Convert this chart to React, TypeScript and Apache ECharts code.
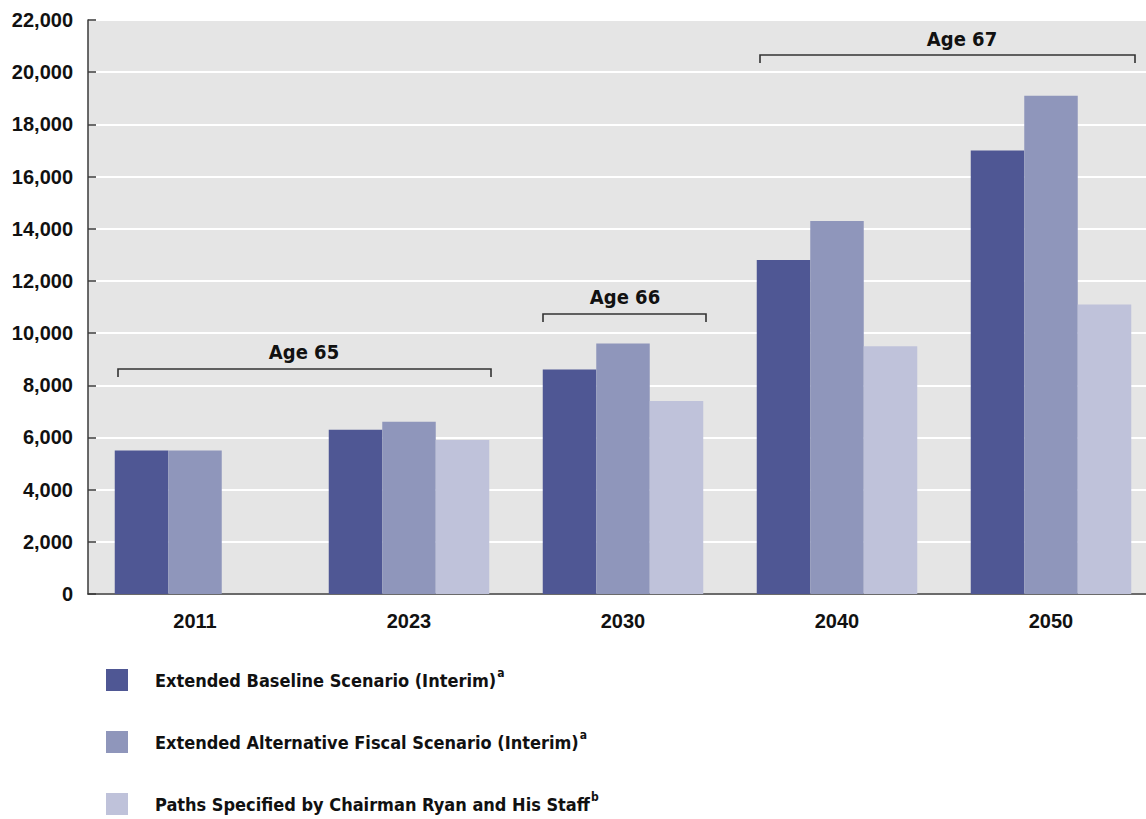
import React, { useEffect, useRef } from "react";
import * as echarts from "echarts";

const categories = ["2011", "2023", "2030", "2040", "2050"];
const seriesNames = [
  "Extended Baseline Scenario (Interim)",
  "Extended Alternative Fiscal Scenario (Interim)",
  "Paths Specified by Chairman Ryan and His Staff",
];
const superscripts = ["a", "a", "b"];
const baseline = [5500, 6300, 8600, 12800, 17000];
const alternative = [5500, 6600, 9600, 14300, 19100];
const ryan = [null, 5900, 7400, 9500, 11100];
const colors = ["#4f5794", "#8f96bb", "#bfc2da"];
const yTicks = { min: 0, max: 22000, interval: 2000 };

const condensed = "'DejaVu Sans Condensed', 'DejaVu Sans', sans-serif";
const sansBold = "'Liberation Sans', Arial, sans-serif";

export default function App() {
  const ref = useRef<HTMLDivElement>(null);
  useEffect(() => {
    if (!ref.current) return;
    const chart = echarts.init(ref.current, undefined, { renderer: "svg" });
    const data = [baseline, alternative, ryan];
    const bracket = (x1: number, x2: number, y: number, label: string, cx: number, ly: number) => [
      {
        type: "polyline",
        shape: { points: [[x1, y + 8], [x1, y], [x2, y], [x2, y + 8]] },
        style: { stroke: "#333333", lineWidth: 1.6, fill: null },
        z: 10,
      },
      {
        type: "text",
        x: cx,
        y: ly,
        style: {
          text: label,
          font: `bold 20px ${condensed}`,
          fill: "#111111",
          align: "center",
          verticalAlign: "middle",
        },
        z: 10,
      },
    ];
    chart.setOption({
      animation: false,
      backgroundColor: "#ffffff",
      grid: { left: 88, top: 20, right: 0, bottom: 306, show: true, backgroundColor: "#e5e5e5", borderWidth: 0 },
      xAxis: {
        type: "category",
        data: categories,
        axisLine: { show: true, lineStyle: { color: "#3a3a3a", width: 1.5 } },
        axisTick: { show: false },
        axisLabel: { margin: 17, color: "#111111", fontSize: 20, fontWeight: "bold", fontFamily: sansBold },
        splitLine: { show: false },
      },
      yAxis: {
        type: "value",
        min: yTicks.min,
        max: yTicks.max,
        interval: yTicks.interval,
        axisLine: { show: true, lineStyle: { color: "#3a3a3a", width: 1.5 } },
        axisTick: { show: true, inside: true, length: 8, lineStyle: { color: "#3a3a3a", width: 1.5 } },
        axisLabel: {
          margin: 15,
          color: "#111111",
          fontSize: 20,
          fontWeight: "bold",
          fontFamily: sansBold,
          formatter: (v: number) => v.toLocaleString("en-US"),
        },
        splitLine: { show: true, lineStyle: { color: "#ffffff", width: 2 } },
      },
      legend: {
        orient: "vertical",
        left: 106,
        top: 667,
        height: 220,
        padding: 0,
        itemWidth: 22,
        itemHeight: 22,
        itemGap: 36,
        icon: "rect",
        data: seriesNames,
        formatter: (name: string) => {
          const i = seriesNames.indexOf(name);
          return `{n|${name}}{s|${superscripts[i]}}`;
        },
        textStyle: {
          rich: {
            n: { fontFamily: condensed, fontWeight: "bold", fontSize: 18, color: "#111111", padding: [0, 0, 0, 22], lineHeight: 22 },
            s: { fontFamily: condensed, fontWeight: "bold", fontSize: 12, color: "#111111", lineHeight: 12, padding: [0, 0, 14, 1] },
          },
        },
      },
      series: seriesNames.map((name, i) => ({
        name,
        type: "bar",
        data: data[i],
        barGap: "0%",
        barCategoryGap: "25%",
        itemStyle: { color: colors[i] },
      })),
      graphic: [
        ...bracket(118, 491, 369, "Age 65", 304, 352),
        ...bracket(543, 706, 314, "Age 66", 625, 297),
        ...bracket(760, 1135, 55, "Age 67", 962, 39),
      ],
    });
    return () => chart.dispose();
  }, []);
  return (
    <div style={{ position: "fixed", left: 0, top: 0, width: 1146, height: 819, overflow: "hidden", background: "#ffffff" }}>
      <div ref={ref} style={{ position: "absolute", left: 0, top: 0, width: 1158, height: 900 }} />
    </div>
  );
}
